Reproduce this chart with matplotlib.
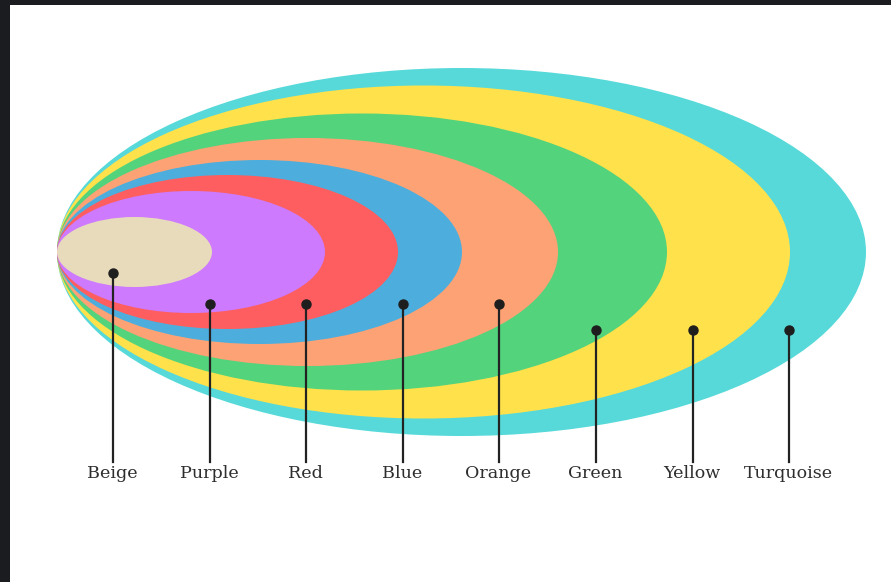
import numpy as np
import matplotlib.pyplot as plt
from matplotlib.patches import Ellipse, Rectangle

# DATI (in pixel dell'immagine)
nomi = ['Beige', 'Purple', 'Red', 'Blue', 'Orange', 'Green', 'Yellow', 'Turquoise']
colori = ['#e8dbbb', '#cd7aff', '#fe5e5f', '#4daedd', '#fda274', '#53d37c', '#ffe14c', '#57d9d9']
larghezze = [155, 268, 341, 405, 501, 610, 733, 809]
altezze = [70, 122, 154, 184, 228, 277, 333, 368]
x_pallini = [113, 210, 306, 403, 499, 596, 693, 789]
y_pallini = [273, 304, 304, 304, 304, 330, 330, 330]

x_sinistra = 57
y_centro = 252
y_fine_linea = 462
y_etichetta = 472

fig = plt.figure(figsize=(8.91, 5.82), dpi=100)
fig.patch.set_facecolor('#1b1c20')
ax = fig.add_axes([10/891, 0, 881/891, 577/582])
ax.set_xlim(10, 891)
ax.set_ylim(582, 5)
ax.set_facecolor('white')
ax.axis('off')
ax.add_patch(Rectangle((10, 5), 881, 577, facecolor='white', edgecolor='none', zorder=0))

# ELLISSI, DALLA PIU GRANDE ALLA PIU PICCOLA
for i in range(len(nomi)-1, -1, -1):
    w = larghezze[i]
    h = altezze[i]
    e = Ellipse((x_sinistra + w/2, y_centro), w, h, facecolor=colori[i], edgecolor='none', zorder=1)
    ax.add_patch(e)

# LINEE, PALLINI, ETICHETTE
for i in range(len(nomi)):
    ax.plot([x_pallini[i], x_pallini[i]], [y_pallini[i], y_fine_linea], color='#222222', linewidth=1.6, zorder=3)
    ax.plot(x_pallini[i], y_pallini[i], 'o', color='#1e1e1e', markersize=6.5, zorder=4)
    ax.text(x_pallini[i] - 1, y_etichetta + 1, nomi[i], ha='center', va='center', fontsize=12.6,
            family='DejaVu Serif', color='#2e2e2e', zorder=4)

plt.savefig('out.png', dpi=100, facecolor=fig.get_facecolor())
